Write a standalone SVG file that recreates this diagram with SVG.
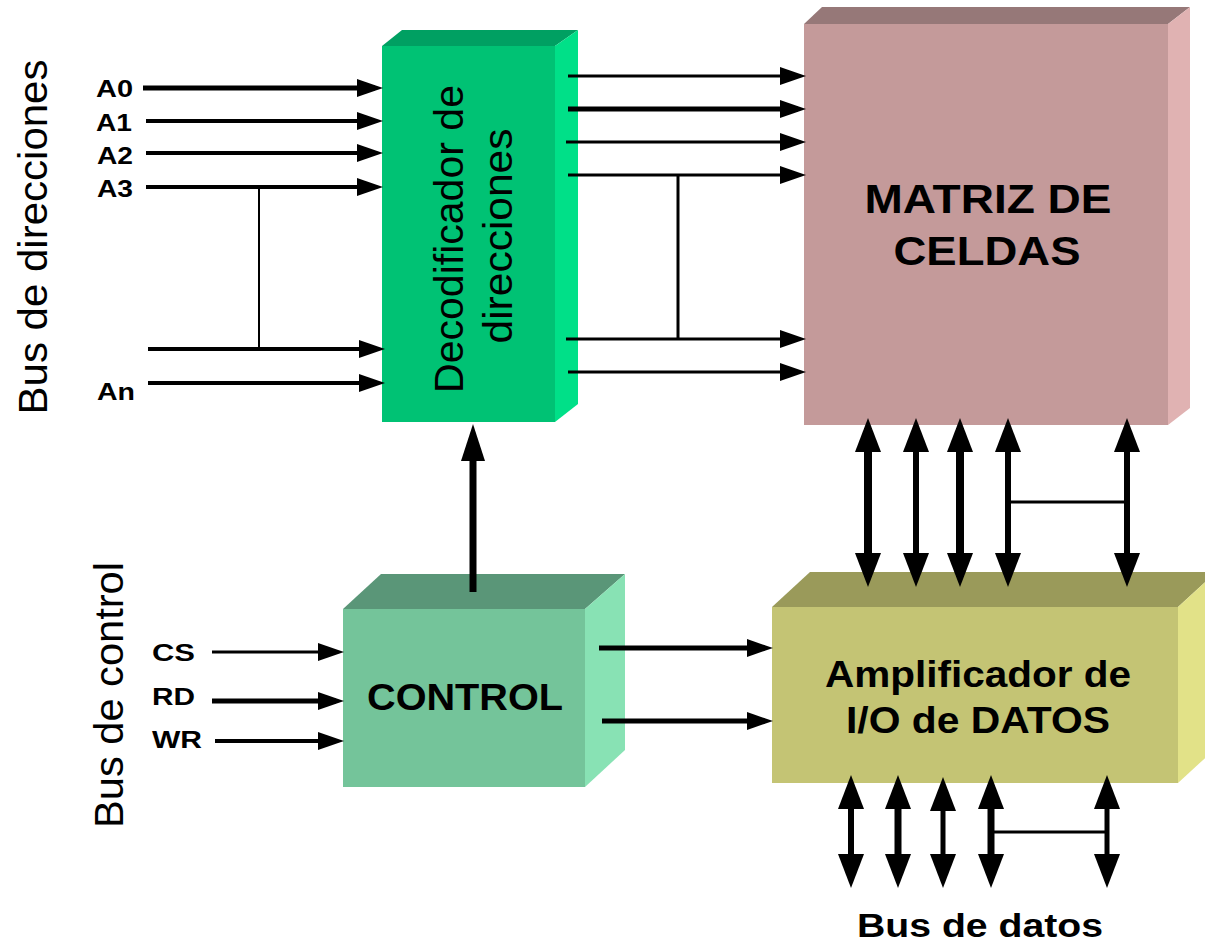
<svg xmlns="http://www.w3.org/2000/svg" width="1205" height="944" viewBox="0 0 1205 944">
  <style>
    text { font-family: "Liberation Sans", Arial, sans-serif; fill: #000; }
    .lbl { font-size: 24px; font-weight: bold; }
    .box { font-size: 40px; font-weight: bold; text-anchor: middle; }
    .bus { font-size: 40px; text-anchor: middle; }
    .w { fill: none; stroke: #000; stroke-linecap: butt; }
    .arr { marker-end: url(#ah); }
    .bi { marker-start: url(#big); marker-end: url(#big); }
  </style>
  <defs>
    <!-- single-headed signal arrow; tip sits 8px past the line end -->
    <marker id="ah" markerUnits="userSpaceOnUse" markerWidth="30" markerHeight="22" viewBox="0 -11 30 22" refX="18" refY="0" orient="auto">
      <path d="M0,-9 L26,0 L0,9 Z" fill="#000"/>
    </marker>
    <!-- wide head used on the data lines, both ends -->
    <marker id="big" markerUnits="userSpaceOnUse" markerWidth="36" markerHeight="30" viewBox="0 -15 36 30" refX="24" refY="0" orient="auto-start-reverse">
      <path d="M0,-13 L34,0 L0,13 Z" fill="#000"/>
    </marker>
  </defs>

  <rect width="1205" height="944" fill="#fff"/>

  <!-- side captions -->
  <g id="bus-direcciones">
    <text class="bus" transform="translate(47,237) rotate(-90)" textLength="355" lengthAdjust="spacingAndGlyphs">Bus de direcciones</text>
  </g>
  <g id="bus-control">
    <text class="bus" transform="translate(123,695) rotate(-90)" textLength="266" lengthAdjust="spacingAndGlyphs">Bus de control</text>
  </g>
  <g id="bus-datos">
    <text class="box" x="980" y="937" style="font-size:34px" textLength="246" lengthAdjust="spacingAndGlyphs">Bus de datos</text>
  </g>

  <!-- address decoder -->
  <g id="decodificador">
    <polygon points="382,46 402,30 578,30 555,46" fill="#00A062"/>
    <polygon points="555,46 578,30 578,404 555,422" fill="#00E088"/>
    <rect x="382" y="46" width="173" height="376" fill="#00C274"/>
    <text class="box" style="font-size:41px;font-weight:normal" transform="translate(463,239) rotate(-90)" textLength="308" lengthAdjust="spacingAndGlyphs">Decodificador de</text>
    <text class="box" style="font-size:41px;font-weight:normal" transform="translate(512,236) rotate(-90)" textLength="215" lengthAdjust="spacingAndGlyphs">direcciones</text>
  </g>

  <!-- cell matrix -->
  <g id="matriz">
    <polygon points="804,24 822,7 1190,7 1168,24" fill="#967878"/>
    <polygon points="1168,24 1190,7 1190,408 1168,425" fill="#E0B2B2"/>
    <rect x="804" y="24" width="364" height="401" fill="#C49A9A"/>
    <text class="box" x="988" y="213" textLength="247" lengthAdjust="spacingAndGlyphs">MATRIZ DE</text>
    <text class="box" x="987" y="265" textLength="187" lengthAdjust="spacingAndGlyphs">CELDAS</text>
  </g>

  <!-- control block -->
  <g id="control">
    <polygon points="343,609 381,574 625,574 585,609" fill="#5A9678"/>
    <polygon points="585,609 625,574 625,750 585,787" fill="#88E2B4"/>
    <rect x="343" y="609" width="242" height="178" fill="#74C49A"/>
    <text class="box" x="465" y="710" style="font-size:36px" textLength="196" lengthAdjust="spacingAndGlyphs">CONTROL</text>
  </g>

  <!-- data I/O amplifier -->
  <g id="amplificador">
    <polygon points="772,607 810,572 1216,572 1178,607" fill="#9A9A5A"/>
    <polygon points="1178,607 1216,572 1216,748 1178,783" fill="#E2E288"/>
    <rect x="772" y="607" width="406" height="176" fill="#C4C474"/>
    <text class="box" x="978" y="687" style="font-size:37px" textLength="306" lengthAdjust="spacingAndGlyphs">Amplificador de</text>
    <text class="box" x="978" y="733" style="font-size:37px" textLength="264" lengthAdjust="spacingAndGlyphs">I/O de DATOS</text>
  </g>

  <!-- signal labels -->
  <g id="etiquetas">
    <text class="lbl" x="96" y="97" textLength="37" lengthAdjust="spacingAndGlyphs">A0</text>
    <text class="lbl" x="96" y="131" textLength="36" lengthAdjust="spacingAndGlyphs">A1</text>
    <text class="lbl" x="97" y="164" textLength="36" lengthAdjust="spacingAndGlyphs">A2</text>
    <text class="lbl" x="97" y="197" textLength="36" lengthAdjust="spacingAndGlyphs">A3</text>
    <text class="lbl" x="97" y="400" textLength="38" lengthAdjust="spacingAndGlyphs">An</text>
    <text class="lbl" x="152" y="661" textLength="43" lengthAdjust="spacingAndGlyphs">CS</text>
    <text class="lbl" x="152" y="705" textLength="43" lengthAdjust="spacingAndGlyphs">RD</text>
    <text class="lbl" x="152" y="748" textLength="50" lengthAdjust="spacingAndGlyphs">WR</text>
  </g>

  <g id="conectores">
    <!-- address bus into decoder -->
    <line class="w arr" x1="143" y1="88" x2="375" y2="88" stroke-width="5"/>
    <line class="w arr" x1="146" y1="121" x2="375" y2="121" stroke-width="4"/>
    <line class="w arr" x1="146" y1="153" x2="375" y2="153" stroke-width="4"/>
    <line class="w arr" x1="146" y1="187" x2="375" y2="187" stroke-width="4"/>
    <line class="w arr" x1="148" y1="349" x2="377" y2="349" stroke-width="4"/>
    <line class="w arr" x1="148" y1="383" x2="377" y2="383" stroke-width="4"/>
    <line class="w" x1="259" y1="187" x2="259" y2="349" stroke-width="2"/>

    <!-- decoder outputs into matrix -->
    <line class="w arr" x1="568" y1="76" x2="798" y2="76" stroke-width="3"/>
    <line class="w arr" x1="568" y1="109" x2="798" y2="109" stroke-width="5"/>
    <line class="w arr" x1="566" y1="142" x2="798" y2="142" stroke-width="3"/>
    <line class="w arr" x1="568" y1="175" x2="798" y2="175" stroke-width="3"/>
    <line class="w arr" x1="566" y1="339" x2="798" y2="339" stroke-width="3"/>
    <line class="w arr" x1="568" y1="372" x2="798" y2="372" stroke-width="3"/>
    <line class="w" x1="678" y1="175" x2="678" y2="339" stroke-width="3"/>

    <!-- control to decoder -->
    <line class="w" x1="473" y1="592" x2="473" y2="440" stroke-width="7"/>
    <path d="M473,424 L485,461 L461,461 Z" fill="#000"/>

    <!-- control bus inputs -->
    <line class="w arr" x1="212" y1="652" x2="336" y2="652" stroke-width="3"/>
    <line class="w arr" x1="212" y1="701" x2="336" y2="701" stroke-width="5"/>
    <line class="w arr" x1="215" y1="741" x2="336" y2="741" stroke-width="4"/>

    <!-- control to data amplifier -->
    <line class="w arr" x1="599" y1="648" x2="765" y2="648" stroke-width="5"/>
    <line class="w arr" x1="602" y1="721" x2="765" y2="721" stroke-width="5"/>

    <!-- matrix <-> amplifier -->
    <line class="w bi" x1="868" y1="428" x2="868" y2="577" stroke-width="8"/>
    <line class="w bi" x1="916" y1="428" x2="916" y2="577" stroke-width="6"/>
    <line class="w bi" x1="960" y1="428" x2="960" y2="577" stroke-width="8"/>
    <line class="w bi" x1="1008" y1="428" x2="1008" y2="577" stroke-width="6"/>
    <line class="w bi" x1="1127" y1="428" x2="1127" y2="577" stroke-width="6"/>
    <line class="w" x1="1008" y1="502" x2="1127" y2="502" stroke-width="3"/>

    <!-- amplifier <-> data bus -->
    <line class="w bi" x1="851" y1="785" x2="851" y2="878" stroke-width="6"/>
    <line class="w bi" x1="898" y1="785" x2="898" y2="878" stroke-width="7"/>
    <line class="w bi" x1="943" y1="787" x2="943" y2="878" stroke-width="5"/>
    <line class="w bi" x1="991" y1="785" x2="991" y2="878" stroke-width="7"/>
    <line class="w bi" x1="1107" y1="785" x2="1107" y2="878" stroke-width="5"/>
    <line class="w" x1="991" y1="832" x2="1107" y2="832" stroke-width="3"/>
  </g>
</svg>
